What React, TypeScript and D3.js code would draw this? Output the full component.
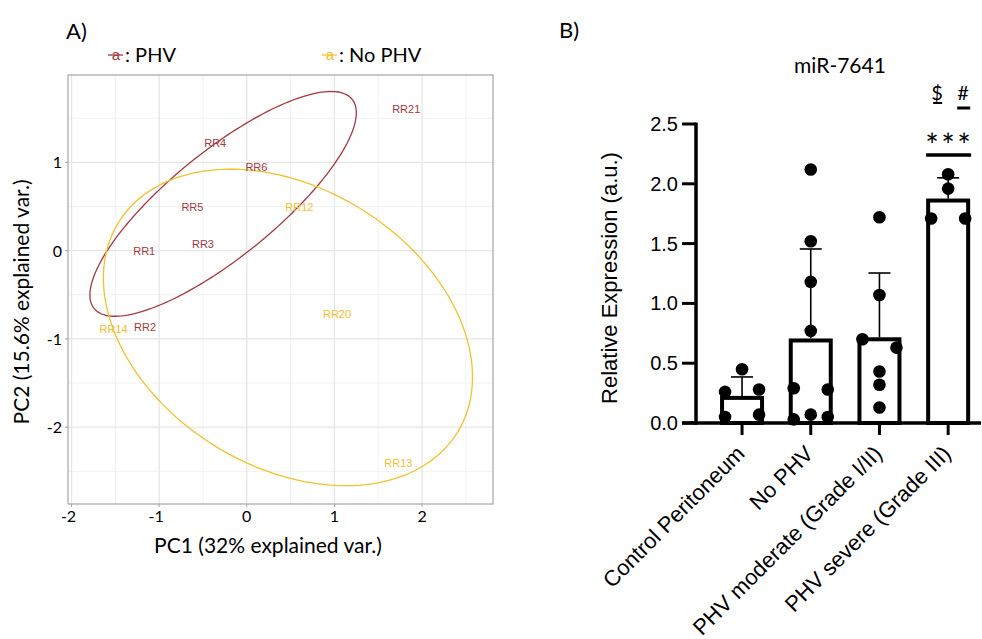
import * as d3 from "d3";
import React, { useRef, useEffect } from "react";

// Panel A: PCA scores
const sampleNames = ["RR1", "RR2", "RR3", "RR4", "RR5", "RR6", "RR21", "RR12", "RR13", "RR14", "RR20"];
const sampleGroups = ["PHV", "PHV", "PHV", "PHV", "PHV", "PHV", "PHV", "No PHV", "No PHV", "No PHV", "No PHV"];
const pc1 = [-1.17, -1.16, -0.5, -0.36, -0.62, 0.11, 1.82, 0.6, 1.73, -1.52, 1.03];
const pc2 = [0.0, -0.87, 0.07, 1.22, 0.5, 0.95, 1.6, 0.5, -2.41, -0.89, -0.72];

// 68% ellipses per group (centre, semi-axes, rotation in degrees)
const ellipseGroups = ["PHV", "No PHV"];
const ellipseCx = [-0.27, 0.47];
const ellipseCy = [0.53, -0.87];
const ellipseMajor = [1.89, 2.27];
const ellipseMinor = [0.6, 1.58];
const ellipseAngle = [38.8, -31.3];

const pc1Ticks = [-2, -1, 0, 1, 2];
const pc2Ticks = [-2, -1, 0, 1];

// Panel B: miR-7641 expression
const categories = ["Control Peritoneum", "No PHV", "PHV moderate (Grade I/II)", "PHV severe (Grade III)"];
const barMeans = [0.21, 0.69, 0.7, 1.86];
const barSD = [0.175, 0.765, 0.554, 0.19];
const controlPeritoneum = [0.45, 0.26, 0.28, 0.05, 0.07];
const noPHV = [2.12, 1.52, 1.18, 0.77, 0.29, 0.28, 0.03, 0.07, 0.05];
const phvModerate = [1.72, 1.07, 0.7, 0.63, 0.43, 0.32, 0.13];
const phvSevere = [2.08, 1.96, 1.71, 1.71];
const exprTicks = [0, 0.5, 1, 1.5, 2, 2.5];

const groupColor = { PHV: "#a3383f", "No PHV": "#f2c12e" };
const calibri = "Lato, 'Open Sans', sans-serif";
const arial = "'Liberation Sans', Arial, sans-serif";

export default function App() {
  const ref = useRef(null);

  useEffect(() => {
    const svg = d3.select(ref.current);
    svg.selectAll("*").remove();
    drawPCA(svg);
    drawBars(svg);
  }, []);

  const drawPCA = (svg) => {
    const x = d3.scaleLinear().domain([-2.04, 2.81]).range([68, 493]);
    const y = d3.scaleLinear().domain([1.99, -2.87]).range([75, 504]);
    const g = svg.append("g");

    svg.append("text").attr("x", 66).attr("y", 39).attr("font-family", calibri)
      .attr("font-size", 22).text("A)");

    // grid
    const minorX = d3.range(-1.5, 2.8, 1);
    const minorY = d3.range(-2.5, 2, 1);
    g.selectAll(".mx").data(minorX).enter().append("line")
      .attr("x1", (d) => x(d)).attr("x2", (d) => x(d)).attr("y1", 75).attr("y2", 504)
      .attr("stroke", "#f2f2f2").attr("stroke-width", 1);
    g.selectAll(".my").data(minorY).enter().append("line")
      .attr("y1", (d) => y(d)).attr("y2", (d) => y(d)).attr("x1", 68).attr("x2", 493)
      .attr("stroke", "#f2f2f2").attr("stroke-width", 1);
    g.selectAll(".gx").data(pc1Ticks).enter().append("line")
      .attr("x1", (d) => x(d)).attr("x2", (d) => x(d)).attr("y1", 75).attr("y2", 504)
      .attr("stroke", "#e6e6e6").attr("stroke-width", 1.3);
    g.selectAll(".gy").data(pc2Ticks).enter().append("line")
      .attr("y1", (d) => y(d)).attr("y2", (d) => y(d)).attr("x1", 68).attr("x2", 493)
      .attr("stroke", "#e6e6e6").attr("stroke-width", 1.3);

    g.append("rect").attr("x", 68).attr("y", 75).attr("width", 425).attr("height", 429)
      .attr("fill", "none").attr("stroke", "#a6a6a6").attr("stroke-width", 1.2);

    // ticks + labels
    g.selectAll(".tx").data(pc1Ticks).enter().append("line")
      .attr("x1", (d) => x(d)).attr("x2", (d) => x(d)).attr("y1", 504).attr("y2", 507)
      .attr("stroke", "#a6a6a6");
    g.selectAll(".ty").data(pc2Ticks).enter().append("line")
      .attr("y1", (d) => y(d)).attr("y2", (d) => y(d)).attr("x1", 65).attr("x2", 68)
      .attr("stroke", "#a6a6a6");
    g.selectAll(".lx").data(pc1Ticks).enter().append("text")
      .attr("x", (d) => x(d) - (d < 0 ? 3 : 0)).attr("y", 522).attr("text-anchor", "middle")
      .attr("font-family", calibri).attr("font-size", 16).text((d) => d);
    g.selectAll(".ly").data(pc2Ticks).enter().append("text")
      .attr("x", 62).attr("y", (d) => y(d) + 6).attr("text-anchor", "end")
      .attr("font-family", calibri).attr("font-size", 16).text((d) => d);

    g.append("text").attr("x", 268).attr("y", 553).attr("text-anchor", "middle")
      .attr("font-family", calibri).attr("font-size", 21).text("PC1 (32% explained var.)");
    g.append("text").attr("transform", "translate(29,302) rotate(-90)").attr("text-anchor", "middle")
      .attr("font-family", calibri).attr("font-size", 21).text("PC2 (15.6% explained var.)");

    // ellipses
    const line = d3.line().x((d) => x(d[0])).y((d) => y(d[1])).curve(d3.curveLinearClosed);
    ellipseGroups.forEach((grp, i) => {
      const th = (ellipseAngle[i] * Math.PI) / 180;
      const pts = d3.range(0, 2 * Math.PI, Math.PI / 90).map((t) => [
        ellipseCx[i] + ellipseMajor[i] * Math.cos(th) * Math.cos(t) - ellipseMinor[i] * Math.sin(th) * Math.sin(t),
        ellipseCy[i] + ellipseMajor[i] * Math.sin(th) * Math.cos(t) + ellipseMinor[i] * Math.cos(th) * Math.sin(t),
      ]);
      g.append("path").attr("d", line(pts)).attr("fill", "none")
        .attr("stroke", groupColor[grp]).attr("stroke-width", 1.3);
    });

    // sample labels
    g.selectAll(".lab").data(sampleNames).enter().append("text")
      .attr("x", (d, i) => x(pc1[i])).attr("y", (d, i) => y(pc2[i]) + 4)
      .attr("text-anchor", "middle").attr("font-family", arial).attr("font-size", 11)
      .attr("fill", (d, i) => groupColor[sampleGroups[i]]).text((d) => d);

    // legend
    const legX = [108, 322];
    ellipseGroups.forEach((grp, i) => {
      const lg = svg.append("g").attr("transform", `translate(${legX[i]},0)`);
      lg.append("text").attr("x", 8).attr("y", 60).attr("text-anchor", "middle")
        .attr("font-family", arial).attr("font-size", 15).attr("fill", groupColor[grp]).text("a");
      lg.append("line").attr("x1", 0).attr("x2", 15).attr("y1", 55).attr("y2", 55)
        .attr("stroke", groupColor[grp]).attr("stroke-width", 1.3);
      lg.append("text").attr("x", 17).attr("y", 62).attr("font-family", calibri)
        .attr("font-size", 20).text(`: ${grp}`);
    });
  };

  const drawBars = (svg) => {
    const groups = [controlPeritoneum, noPHV, phvModerate, phvSevere];
    const y = d3.scaleLinear().domain([0, 2.5]).range([423, 124]);
    const x = d3.scaleBand().domain(categories).range([707.7, 982.5]).padding(0);
    const cx = (c) => x(c) + x.bandwidth() / 2;
    const barW = 40;
    const g = svg.append("g");

    svg.append("text").attr("x", 559).attr("y", 38).attr("font-family", calibri)
      .attr("font-size", 22).text("B)");
    svg.append("text").attr("x", 840).attr("y", 73).attr("text-anchor", "middle")
      .attr("font-family", calibri).attr("font-size", 21).text("miR-7641");

    // bars
    g.selectAll(".bar").data(categories).enter().append("rect")
      .attr("x", (d) => cx(d) - barW / 2).attr("width", barW)
      .attr("y", (d, i) => y(barMeans[i])).attr("height", (d, i) => y(0) - y(barMeans[i]))
      .attr("fill", "white").attr("stroke", "black").attr("stroke-width", 4);

    // error bars
    g.selectAll(".err").data(categories).enter().append("line")
      .attr("x1", (d) => cx(d)).attr("x2", (d) => cx(d))
      .attr("y1", (d, i) => y(barMeans[i]) - 2).attr("y2", (d, i) => y(barMeans[i] + barSD[i]))
      .attr("stroke", "black").attr("stroke-width", 1.6);
    g.selectAll(".cap").data(categories).enter().append("line")
      .attr("x1", (d) => cx(d) - 11).attr("x2", (d) => cx(d) + 11)
      .attr("y1", (d, i) => y(barMeans[i] + barSD[i])).attr("y2", (d, i) => y(barMeans[i] + barSD[i]))
      .attr("stroke", "black").attr("stroke-width", 1.6);

    // scatter points laid out in rows
    const pxPerUnit = y(0) - y(1);
    groups.forEach((vals, gi) => {
      const order = vals.map((v, i) => i).sort((a, b) => vals[a] - vals[b]);
      const rows = [];
      order.forEach((idx) => {
        const row = rows[rows.length - 1];
        if (row && (vals[idx] - vals[row[0]]) * pxPerUnit <= 13) row.push(idx);
        else rows.push([idx]);
      });
      const offsets = [];
      rows.forEach((row) => {
        const r = row.slice().sort((a, b) => a - b);
        r.forEach((idx, k) => {
          offsets[idx] = r.length === 1 ? 0 : r.length === 2 ? (k === 0 ? -17 : 17) : (k - (r.length - 1) / 2) * 17;
        });
      });
      g.selectAll(`.pt${gi}`).data(vals).enter().append("circle")
        .attr("cx", (d, i) => cx(categories[gi]) + offsets[i]).attr("cy", (d) => y(d))
        .attr("r", 6.3).attr("fill", "black");
    });

    // axes
    g.append("line").attr("x1", 696).attr("x2", 696).attr("y1", y(2.5) - 1.5).attr("y2", y(0) + 1.75)
      .attr("stroke", "black").attr("stroke-width", 3.5);
    g.append("line").attr("x1", 682).attr("x2", 981).attr("y1", y(0)).attr("y2", y(0))
      .attr("stroke", "black").attr("stroke-width", 3.5);
    g.selectAll(".yt").data(exprTicks).enter().append("line")
      .attr("x1", 682).attr("x2", 696).attr("y1", (d) => y(d)).attr("y2", (d) => y(d))
      .attr("stroke", "black").attr("stroke-width", 3);
    g.selectAll(".yl").data(exprTicks).enter().append("text")
      .attr("x", 678).attr("y", (d) => y(d) + 7).attr("text-anchor", "end")
      .attr("font-family", arial).attr("font-size", 20).text((d) => d3.format(".1f")(d));
    g.selectAll(".xt").data(categories).enter().append("line")
      .attr("x1", (d) => cx(d)).attr("x2", (d) => cx(d)).attr("y1", y(0)).attr("y2", 435)
      .attr("stroke", "black").attr("stroke-width", 3);
    g.selectAll(".xl").data(categories).enter().append("text")
      .attr("transform", (d) => `translate(${cx(d) + 4},455) rotate(-45)`)
      .attr("text-anchor", "end").attr("font-family", arial).attr("font-size", 22).text((d) => d);
    g.append("text").attr("transform", "translate(617,278) rotate(-90)").attr("text-anchor", "middle")
      .attr("font-family", arial).attr("font-size", 22).text("Relative Expression (a.u.)");

    // significance marks
    const sx = cx(categories[3]);
    g.append("line").attr("x1", sx - 22).attr("x2", sx + 23).attr("y1", 155).attr("y2", 155)
      .attr("stroke", "black").attr("stroke-width", 3.5);
    [-16, 0, 16].forEach((dx) => {
      g.append("text").attr("x", sx + dx).attr("y", 157).attr("text-anchor", "middle")
        .attr("font-family", calibri).attr("font-size", 32).text("*");
    });
    g.append("text").attr("x", sx - 11).attr("y", 100).attr("text-anchor", "middle")
      .attr("font-family", calibri).attr("font-size", 20).text("$");
    g.append("line").attr("x1", sx - 15).attr("x2", sx - 6).attr("y1", 103).attr("y2", 103)
      .attr("stroke", "black").attr("stroke-width", 2);
    g.append("text").attr("x", sx + 15).attr("y", 100).attr("text-anchor", "middle")
      .attr("font-family", calibri).attr("font-size", 20).text("#");
    g.append("line").attr("x1", sx + 9).attr("x2", sx + 22).attr("y1", 108).attr("y2", 108)
      .attr("stroke", "black").attr("stroke-width", 3);
  };

  return (
    <svg ref={ref} width={982} height={639}
      style={{ position: "absolute", left: 0, top: 0, background: "white" }} />
  );
}
